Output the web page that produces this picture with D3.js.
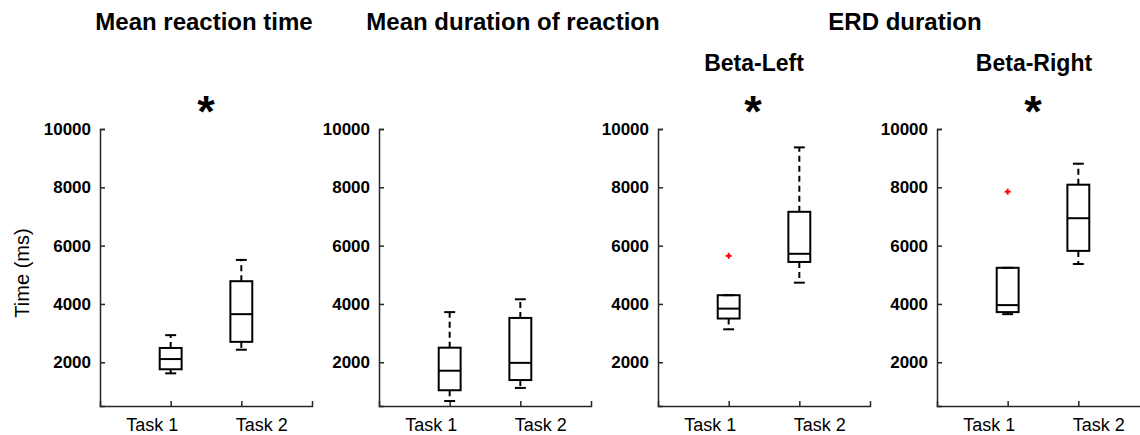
<!DOCTYPE html>
<html>
<head>
<meta charset="utf-8">
<script src="https://cdn.jsdelivr.net/npm/d3@7"></script>
<style>
  html, body { margin: 0; padding: 0; background: #fff; }
  svg { display: block; font-family: 'Liberation Sans', Arial, sans-serif; }
</style>
</head>
<body>
<div id="chart"></div>
<script>
// --- data ---
const categories = ['Task 1', 'Task 2'];
const yTicks = [2000, 4000, 6000, 8000, 10000];
const yDomain = [500, 10000];

// each box: [lower whisker, q1, median, q3, upper whisker]
const reactionTime = [[1620, 1760, 2110, 2490, 2930], [2430, 2700, 3650, 4780, 5510]];
const reactionDuration = [[670, 1040, 1710, 2500, 3720], [1120, 1390, 1980, 3520, 4160]];
const betaLeft = [[3130, 3500, 3840, 4300, 4300], [4730, 5440, 5720, 7160, 9370]];
const betaRight = [[3650, 3720, 3960, 5240, 5240], [5370, 5820, 6940, 8090, 8810]];

// outliers per category
const betaLeftOutliers = [[5650], []];
const betaRightOutliers = [[7850], []];

const panelTitles = ['Mean reaction time', 'Mean duration of reaction', 'ERD duration'];
const subTitles = ['', '', 'Beta-Left', 'Beta-Right'];
const significant = [true, false, true, true];

// --- layout ---
const W = 1140, H = 435;
const axisTop = 129, axisBottom = 406, axisW = 212;
const axisLefts = [100, 379, 658, 937];
const axisColor = '#262626';
const labelShift = [-19, 20]; // category labels sit a bit off their ticks in the original

const panels = [
  { boxes: reactionTime, outliers: [[], []] },
  { boxes: reactionDuration, outliers: [[], []] },
  { boxes: betaLeft, outliers: betaLeftOutliers },
  { boxes: betaRight, outliers: betaRightOutliers }
];

const svg = d3.select('#chart').append('svg').attr('width', W).attr('height', H);

const y = d3.scaleLinear().domain(yDomain).range([axisBottom, axisTop]);

// titles
const titleX = [204, 513, 905];
panelTitles.forEach((t, i) => {
  svg.append('text').attr('x', titleX[i]).attr('y', 30).attr('text-anchor', 'middle')
    .style('font-size', '24px').style('font-weight', 'bold').attr('fill', '#000').text(t);
});
const subX = [0, 0, 754, 1034];
subTitles.forEach((t, i) => {
  if (!t) return;
  svg.append('text').attr('x', subX[i]).attr('y', 71).attr('text-anchor', 'middle')
    .style('font-size', '23px').style('font-weight', 'bold').attr('fill', '#000').text(t);
});
const starX = [206, 0, 753, 1033];
significant.forEach((s, i) => {
  if (!s) return;
  svg.append('text').attr('x', starX[i]).attr('y', 127).attr('text-anchor', 'middle')
    .style('font-size', '45px').style('font-weight', 'bold').attr('fill', '#000').text('*');
});

// y label
svg.append('text').attr('transform', 'translate(29,273) rotate(-90)').attr('text-anchor', 'middle')
  .style('font-size', '20px').attr('fill', '#000').text('Time (ms)');

panels.forEach((p, pi) => {
  const x0 = axisLefts[pi];
  const x = d3.scaleLinear().domain([0, 3]).range([x0, x0 + axisW]);
  const g = svg.append('g');

  // axes (MATLAB style, ticks inward)
  const yAxis = d3.axisLeft(y).tickValues(yTicks).tickSizeInner(-5).tickSizeOuter(-5).tickPadding(9)
    .tickFormat(d3.format('d'));
  const ya = g.append('g').attr('transform', `translate(${x0},0)`).call(yAxis);
  ya.selectAll('path, line').attr('stroke', axisColor).attr('stroke-width', 1.5);
  ya.selectAll('text').style('font-size', '17px').style('font-weight', 'bold').attr('fill', '#000');

  const xAxis = d3.axisBottom(x).tickValues([1, 2]).tickSizeInner(-5).tickSizeOuter(-5).tickPadding(12)
    .tickFormat(d => categories[d - 1]);
  const xa = g.append('g').attr('transform', `translate(0,${axisBottom})`).call(xAxis);
  xa.selectAll('path, line').attr('stroke', axisColor).attr('stroke-width', 1.5);
  xa.selectAll('text').style('font-size', '18px').attr('fill', '#000')
    .attr('dx', d => labelShift[d - 1]);

  const boxHalf = (x(1.31) - x(1)) / 2;
  const capHalf = boxHalf / 2;

  p.boxes.forEach((b, ci) => {
    const cx = x(ci + 1);
    const [lo, q1, med, q3, hi] = b;
    const bg = g.append('g').attr('stroke', '#000').attr('stroke-width', 2).attr('fill', 'none');
    // whiskers
    if (hi > q3) bg.append('line').attr('x1', cx).attr('x2', cx).attr('y1', y(q3)).attr('y2', y(hi)).attr('stroke-dasharray', '6,4');
    if (lo < q1) bg.append('line').attr('x1', cx).attr('x2', cx).attr('y1', y(q1)).attr('y2', y(lo)).attr('stroke-dasharray', '6,4');
    // caps
    [lo, hi].forEach(v => {
      bg.append('line').attr('x1', cx - capHalf).attr('x2', cx + capHalf).attr('y1', y(v)).attr('y2', y(v));
    });
    // box
    bg.append('rect').attr('x', cx - boxHalf).attr('y', y(q3)).attr('width', boxHalf * 2).attr('height', y(q1) - y(q3));
    // median
    bg.append('line').attr('x1', cx - boxHalf).attr('x2', cx + boxHalf).attr('y1', y(med)).attr('y2', y(med));
    // outliers (red +)
    p.outliers[ci].forEach(v => {
      const og = g.append('g').attr('stroke', '#ff0000').attr('stroke-width', 2);
      og.append('line').attr('x1', cx - 3).attr('x2', cx + 3).attr('y1', y(v)).attr('y2', y(v));
      og.append('line').attr('x1', cx).attr('x2', cx).attr('y1', y(v) - 3).attr('y2', y(v) + 3);
    });
  });
});
</script>
</body>
</html>
